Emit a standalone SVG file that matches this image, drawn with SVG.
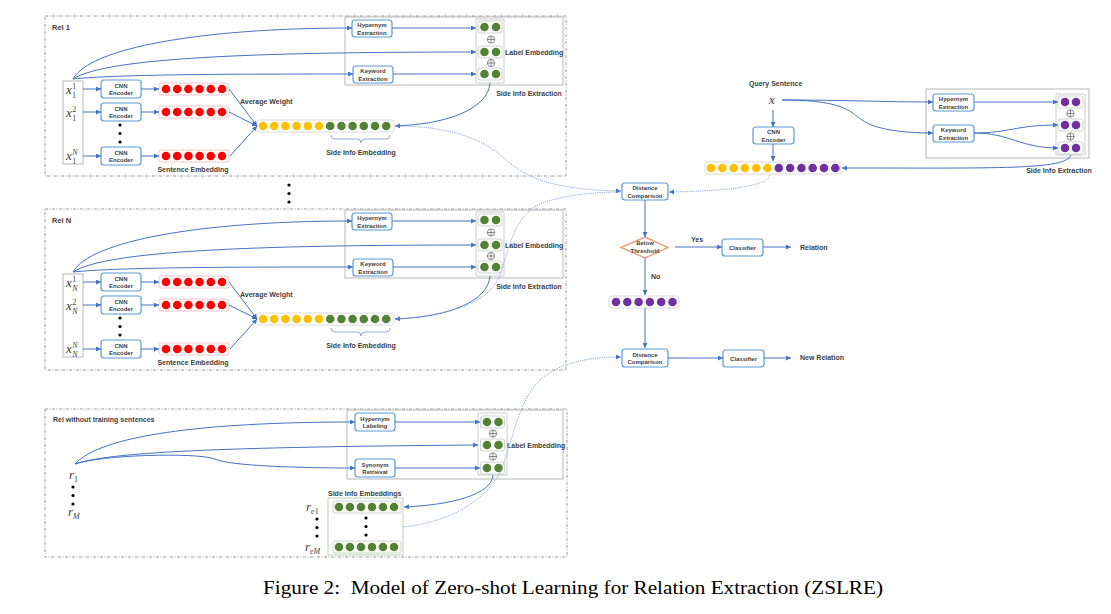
<svg xmlns="http://www.w3.org/2000/svg" xmlns:xlink="http://www.w3.org/1999/xlink" width="1111" height="614" viewBox="0 0 1111 614">
<style>
.bg{fill:#ffffff}
.outer{fill:none;stroke:#808080;stroke-width:0.8;stroke-dasharray:3 1.5 1 1.5}
.inner{fill:none;stroke:#A6A6A6;stroke-width:0.8}
.node{fill:#ffffff;stroke:#5B9BD5;stroke-width:1.2}
.inbox{fill:#ffffff;stroke:#A6A6A6;stroke-width:0.8}
.col{fill:#ffffff;stroke:#BFBFBF;stroke-width:0.8}
.cell{fill:#ffffff;stroke:#BFBFBF;stroke-width:0.7}
.bar{fill:#ffffff;stroke:#D0D0D0;stroke-width:0.8}
.rbar{fill:#ffffff;stroke:#F0B8B8;stroke-width:0.8}
.gbox{fill:#ffffff;stroke:#A9C79A;stroke-width:0.8}
.r{fill:#FF0000}
.y{fill:#FFC000}
.g{fill:#548235}
.p{fill:#7030A0}
.dot{fill:#000000}
.op{fill:#ffffff;stroke:#404040;stroke-width:0.6}
.lbl{font-family:"Liberation Sans",Arial,sans-serif;font-weight:bold;font-size:6px;fill:#404040;text-anchor:middle}
.txt{font-family:"Liberation Sans",Arial,sans-serif;font-weight:bold;font-size:7px;fill:#404040}
.mid{text-anchor:middle}
.math{font-family:"Liberation Serif","Times New Roman",serif;font-style:italic;font-size:13px;fill:#404040}
.sm{font-size:8px;font-style:normal}
.it{font-style:italic}
.conn{fill:none;stroke:#4472C4;stroke-width:1}
.dash{fill:none;stroke:#7F9FD4;stroke-width:0.9;stroke-dasharray:1.2 1}
.brace{fill:none;stroke:#8FAADC;stroke-width:1}
.diam{fill:#ffffff;stroke:#E9A07A;stroke-width:1.4}
.cap{font-family:"Liberation Serif","Times New Roman",serif;font-size:18px;fill:#000000}
</style>
<defs>
<marker id="ah" viewBox="0 0 6 6" refX="6" refY="3" markerWidth="5" markerHeight="5" markerUnits="userSpaceOnUse" orient="auto">
<path d="M0,0 L6,3 L0,6 z" fill="#4472C4"/>
</marker>
<g id="redrow">
<rect class="rbar" x="0" y="0" width="70" height="12" rx="2"/>
<circle class="r" cx="7" cy="6" r="4.3"/><circle class="r" cx="18.2" cy="6" r="4.3"/><circle class="r" cx="29.4" cy="6" r="4.3"/><circle class="r" cx="40.6" cy="6" r="4.3"/><circle class="r" cx="51.8" cy="6" r="4.3"/><circle class="r" cx="63" cy="6" r="4.3"/>
</g>
<g id="combo">
<rect class="bar" x="0" y="0" width="137" height="12" rx="2"/>
<circle class="y" cx="6" cy="6" r="4.3"/><circle class="y" cx="17.2" cy="6" r="4.3"/><circle class="y" cx="28.4" cy="6" r="4.3"/><circle class="y" cx="39.6" cy="6" r="4.3"/><circle class="y" cx="50.8" cy="6" r="4.3"/><circle class="y" cx="62" cy="6" r="4.3"/>
<circle class="g" cx="73.2" cy="6" r="4.3"/><circle class="g" cx="84.4" cy="6" r="4.3"/><circle class="g" cx="95.6" cy="6" r="4.3"/><circle class="g" cx="106.8" cy="6" r="4.3"/><circle class="g" cx="118" cy="6" r="4.3"/><circle class="g" cx="129.2" cy="6" r="4.3"/>
</g>
<g id="qcombo">
<rect class="bar" x="0" y="0" width="136" height="12" rx="2"/>
<circle class="y" cx="6" cy="6" r="4.3"/><circle class="y" cx="17.3" cy="6" r="4.3"/><circle class="y" cx="28.6" cy="6" r="4.3"/><circle class="y" cx="39.9" cy="6" r="4.3"/><circle class="y" cx="51.2" cy="6" r="4.3"/><circle class="y" cx="62.5" cy="6" r="4.3"/>
<circle class="p" cx="73.8" cy="6" r="4.3"/><circle class="p" cx="85.1" cy="6" r="4.3"/><circle class="p" cx="96.4" cy="6" r="4.3"/><circle class="p" cx="107.7" cy="6" r="4.3"/><circle class="p" cx="119" cy="6" r="4.3"/><circle class="p" cx="130.3" cy="6" r="4.3"/>
</g>
<g id="prow">
<rect class="bar" x="0" y="0" width="70" height="12" rx="2"/>
<circle class="p" cx="7" cy="6" r="4.3"/><circle class="p" cx="18.3" cy="6" r="4.3"/><circle class="p" cx="29.6" cy="6" r="4.3"/><circle class="p" cx="40.9" cy="6" r="4.3"/><circle class="p" cx="52.2" cy="6" r="4.3"/><circle class="p" cx="63.5" cy="6" r="4.3"/>
</g>
<g id="grow">
<rect class="cell" x="0" y="0" width="68" height="12" rx="2"/>
<circle class="g" cx="6" cy="6" r="4.3"/><circle class="g" cx="17" cy="6" r="4.3"/><circle class="g" cx="28" cy="6" r="4.3"/><circle class="g" cx="39" cy="6" r="4.3"/><circle class="g" cx="50" cy="6" r="4.3"/><circle class="g" cx="61" cy="6" r="4.3"/>
</g>
<g id="g2">
<rect class="cell" x="0" y="0" width="24" height="12" rx="2"/>
<circle class="g" cx="6.5" cy="6" r="4.3"/><circle class="g" cx="18" cy="6" r="4.3"/>
</g>
<g id="p2">
<rect class="cell" x="0" y="0" width="25" height="12" rx="2"/>
<circle class="p" cx="7" cy="6" r="4.3"/><circle class="p" cx="18" cy="6" r="4.3"/>
</g>
<g id="oplus">
<circle class="op" cx="0" cy="0" r="3.6"/>
<path d="M-3.6,0 H3.6 M0,-3.6 V3.6" stroke="#404040" stroke-width="0.6"/>
</g>
<g id="dots3">
<circle class="dot" cx="0" cy="0" r="1.6"/><circle class="dot" cx="0" cy="8.5" r="1.6"/><circle class="dot" cx="0" cy="17" r="1.6"/>
</g>
</defs>
<rect class="bg" x="0" y="0" width="1111" height="614"/>

<!-- ===================== Rel 1 ===================== -->
<g id="rel1">
<rect class="outer" x="45" y="16" width="521" height="160"/>
<text class="txt" x="52" y="30" style="font-size:7.5px">Rel 1</text>
</g>
<g id="rel1-inputs">
<rect class="inbox" x="63" y="81" width="20" height="83"/>
<text class="math" x="66" y="94">x<tspan class="sm" dx="0.5" dy="-5">1</tspan><tspan class="sm" dx="-4" dy="8.5">1</tspan></text>
<text class="math" x="66" y="117">x<tspan class="sm" dx="0.5" dy="-5">2</tspan><tspan class="sm" dx="-4" dy="8.5">1</tspan></text>
<text class="math" x="66" y="160">x<tspan class="sm it" dx="0.5" dy="-5">N</tspan><tspan class="sm" dx="-5.5" dy="8.5">1</tspan></text>
</g>
<g id="rel1-cnn1"><rect class="node" x="101" y="80" width="40" height="18" rx="3"/><text class="lbl" x="121" y="87.5">CNN</text><text class="lbl" x="121" y="95">Encoder</text></g>
<g id="rel1-cnn2"><rect class="node" x="101" y="103" width="40" height="18" rx="3"/><text class="lbl" x="121" y="110.5">CNN</text><text class="lbl" x="121" y="118">Encoder</text></g>
<g id="rel1-cnn3"><rect class="node" x="101" y="147" width="40" height="18" rx="3"/><text class="lbl" x="121" y="154.5">CNN</text><text class="lbl" x="121" y="162">Encoder</text></g>
<g id="rel1-dots"><use xlink:href="#dots3" x="120" y="125"/></g>
<g id="rel1-sent">
<use xlink:href="#redrow" x="159" y="83"/>
<use xlink:href="#redrow" x="159" y="106"/>
<use xlink:href="#redrow" x="159" y="150"/>
<text class="txt mid" x="193" y="172">Sentence Embedding</text>
</g>
<g id="rel1-avg"><text class="txt" x="240" y="104">Average Weight</text></g>
<g id="rel1-combo">
<use xlink:href="#combo" x="257" y="120"/>
<path class="brace" d="M331,135 Q331,139 335,139 L357,139 Q361,139 361,143 Q361,139 365,139 L386,139 Q390,139 390,135"/>
<text class="txt mid" x="361" y="155">Side Info Embedding</text>
</g>
<g id="rel1-side">
<rect class="inner" x="345" y="17" width="218" height="68"/>
<text class="txt mid" x="529" y="96">Side Info Extraction</text>
</g>
<g id="rel1-hyp"><rect class="node" x="352" y="20" width="40" height="17" rx="3"/><text class="lbl" x="372" y="27">Hypernym</text><text class="lbl" x="372" y="34.5">Extraction</text></g>
<g id="rel1-key"><rect class="node" x="353" y="66" width="40" height="17" rx="3"/><text class="lbl" x="373" y="73">Keyword</text><text class="lbl" x="373" y="80.5">Extraction</text></g>
<g id="rel1-label">
<rect class="col" x="476" y="19" width="28" height="64" rx="1"/>
<use xlink:href="#g2" x="478" y="21"/>
<use xlink:href="#g2" x="478" y="46"/>
<use xlink:href="#g2" x="478" y="68"/>
<use xlink:href="#oplus" x="491" y="39.5"/>
<use xlink:href="#oplus" x="491" y="63"/>
<text class="txt" x="505" y="55">Label Embedding</text>
</g>

<!-- ===================== between ===================== -->
<g id="mid-dots"><use xlink:href="#dots3" x="289" y="185"/></g>

<!-- ===================== Rel N ===================== -->
<g id="relN">
<rect class="outer" x="45" y="209" width="521" height="161"/>
<text class="txt" x="52" y="223" style="font-size:7.5px">Rel N</text>
</g>
<g id="relN-inputs">
<rect class="inbox" x="63" y="274" width="20" height="83"/>
<text class="math" x="66" y="287">x<tspan class="sm" dx="0.5" dy="-5">1</tspan><tspan class="sm it" dx="-4" dy="8.5">N</tspan></text>
<text class="math" x="66" y="310">x<tspan class="sm" dx="0.5" dy="-5">2</tspan><tspan class="sm it" dx="-4" dy="8.5">N</tspan></text>
<text class="math" x="66" y="353">x<tspan class="sm it" dx="0.5" dy="-5">N</tspan><tspan class="sm it" dx="-5.5" dy="8.5">N</tspan></text>
</g>
<g id="relN-cnn1"><rect class="node" x="101" y="273" width="40" height="18" rx="3"/><text class="lbl" x="121" y="280.5">CNN</text><text class="lbl" x="121" y="288">Encoder</text></g>
<g id="relN-cnn2"><rect class="node" x="101" y="296" width="40" height="18" rx="3"/><text class="lbl" x="121" y="303.5">CNN</text><text class="lbl" x="121" y="311">Encoder</text></g>
<g id="relN-cnn3"><rect class="node" x="101" y="340" width="40" height="18" rx="3"/><text class="lbl" x="121" y="347.5">CNN</text><text class="lbl" x="121" y="355">Encoder</text></g>
<g id="relN-dots"><use xlink:href="#dots3" x="120" y="318"/></g>
<g id="relN-sent">
<use xlink:href="#redrow" x="159" y="276"/>
<use xlink:href="#redrow" x="159" y="299"/>
<use xlink:href="#redrow" x="159" y="343"/>
<text class="txt mid" x="193" y="365">Sentence Embedding</text>
</g>
<g id="relN-avg"><text class="txt" x="240" y="297">Average Weight</text></g>
<g id="relN-combo">
<use xlink:href="#combo" x="257" y="313"/>
<path class="brace" d="M331,328 Q331,332 335,332 L357,332 Q361,332 361,336 Q361,332 365,332 L386,332 Q390,332 390,328"/>
<text class="txt mid" x="361" y="348">Side Info Embedding</text>
</g>
<g id="relN-side">
<rect class="inner" x="345" y="210" width="218" height="68"/>
<text class="txt mid" x="529" y="289">Side Info Extraction</text>
</g>
<g id="relN-hyp"><rect class="node" x="352" y="213" width="40" height="17" rx="3"/><text class="lbl" x="372" y="220">Hypernym</text><text class="lbl" x="372" y="227.5">Extraction</text></g>
<g id="relN-key"><rect class="node" x="353" y="259" width="40" height="17" rx="3"/><text class="lbl" x="373" y="266">Keyword</text><text class="lbl" x="373" y="273.5">Extraction</text></g>
<g id="relN-label">
<rect class="col" x="476" y="212" width="28" height="64" rx="1"/>
<use xlink:href="#g2" x="478" y="214"/>
<use xlink:href="#g2" x="478" y="239"/>
<use xlink:href="#g2" x="478" y="261"/>
<use xlink:href="#oplus" x="491" y="232.5"/>
<use xlink:href="#oplus" x="491" y="256"/>
<text class="txt" x="505" y="248">Label Embedding</text>
</g>

<!-- ===================== Rel without training ===================== -->
<g id="relz">
<rect class="outer" x="45" y="409" width="522" height="148"/>
<text class="txt" x="53" y="422">Rel without training sentences</text>
</g>
<g id="relz-inputs">
<text class="math" x="69" y="479">r<tspan class="sm" dx="0" dy="3">1</tspan></text>
<use xlink:href="#dots3" x="73" y="487"/>
<text class="math" x="68" y="516">r<tspan class="sm it" dx="0" dy="3">M</tspan></text>
</g>
<g id="relz-side"><rect class="inner" x="347" y="410" width="216" height="69"/></g>
<g id="relz-hyp"><rect class="node" x="355" y="413" width="40" height="18" rx="3"/><text class="lbl" x="375" y="420.5">Hypernym</text><text class="lbl" x="375" y="428">Labeling</text></g>
<g id="relz-syn"><rect class="node" x="355" y="459" width="40" height="18" rx="3"/><text class="lbl" x="375" y="466.5">Synonym</text><text class="lbl" x="375" y="474">Retrieval</text></g>
<g id="relz-label">
<rect class="col" x="478" y="413" width="29" height="62" rx="1"/>
<use xlink:href="#g2" x="480.5" y="416"/>
<use xlink:href="#g2" x="480.5" y="439"/>
<use xlink:href="#g2" x="480.5" y="462"/>
<use xlink:href="#oplus" x="493" y="433.5"/>
<use xlink:href="#oplus" x="493" y="456.5"/>
<text class="txt" x="507" y="448">Label Embedding</text>
</g>
<g id="relz-emb">
<text class="txt" x="328" y="496">Side Info Embeddings</text>
<rect class="gbox" x="328" y="498" width="75" height="57"/>
<use xlink:href="#grow" x="333" y="501"/>
<use xlink:href="#dots3" x="366" y="518"/>
<use xlink:href="#grow" x="333" y="541"/>
<text class="math" x="306" y="511">r<tspan class="sm it" dx="0" dy="3">e</tspan><tspan class="sm">1</tspan></text>
<use xlink:href="#dots3" x="317" y="519"/>
<text class="math" x="305" y="551">r<tspan class="sm it" dx="0" dy="3">eM</tspan></text>
</g>

<!-- ===================== Query ===================== -->
<g id="query">
<text class="txt" x="749" y="86">Query Sentence</text>
<text class="math" x="769" y="104">x</text>
</g>
<g id="q-cnn"><rect class="node" x="753" y="127" width="41" height="17" rx="3"/><text class="lbl" x="773.5" y="134">CNN</text><text class="lbl" x="773.5" y="141.5">Encoder</text></g>
<g id="q-combo"><use xlink:href="#qcombo" x="705" y="162"/></g>
<g id="q-side">
<rect class="inner" x="926" y="89" width="163" height="69"/>
<text class="txt mid" x="1059" y="173">Side Info Extraction</text>
</g>
<g id="q-hyp"><rect class="node" x="933" y="94" width="41" height="17" rx="3"/><text class="lbl" x="953.5" y="101">Hypernym</text><text class="lbl" x="953.5" y="108.5">Extraction</text></g>
<g id="q-key"><rect class="node" x="933" y="125" width="41" height="17" rx="3"/><text class="lbl" x="953.5" y="132">Keyword</text><text class="lbl" x="953.5" y="139.5">Extraction</text></g>
<g id="q-label">
<rect class="col" x="1056" y="94" width="29" height="61" rx="1"/>
<use xlink:href="#p2" x="1058" y="96"/>
<use xlink:href="#p2" x="1058" y="119"/>
<use xlink:href="#p2" x="1058" y="142"/>
<use xlink:href="#oplus" x="1070.5" y="113.5"/>
<use xlink:href="#oplus" x="1070.5" y="136.5"/>
</g>

<!-- ===================== Decision ===================== -->
<g id="dc1"><rect class="node" x="622" y="183" width="46" height="17" rx="3"/><text class="lbl" x="645" y="190">Distance</text><text class="lbl" x="645" y="197.5">Comparison</text></g>
<g id="thresh"><polygon class="diam" points="645,237 668,247.5 645,258 621,247.5"/><text class="lbl" x="645" y="245">Below</text><text class="lbl" x="645" y="252.5">Threshold</text></g>
<g id="cls1"><rect class="node" x="722" y="239" width="41" height="17" rx="3"/><text class="lbl" x="742.5" y="249.5">Classifier</text></g>
<g id="rel-out"><text class="txt" x="800" y="250">Relation</text></g>
<g id="prow-node"><use xlink:href="#prow" x="609" y="296"/></g>
<g id="dc2"><rect class="node" x="622" y="349" width="46" height="18" rx="3"/><text class="lbl" x="645" y="356.5">Distance</text><text class="lbl" x="645" y="364">Comparison</text></g>
<g id="cls2"><rect class="node" x="723" y="350" width="41" height="17" rx="3"/><text class="lbl" x="743.5" y="360.5">Classifier</text></g>
<g id="newrel-out"><text class="txt" x="800" y="360">New Relation</text></g>

<!-- ===================== Connectors ===================== -->
<g id="connectors">
<path class="conn" marker-end="url(#ah)" d="M73,79 C90,48 200,28 352,28"/>
<path class="conn" marker-end="url(#ah)" d="M73,79 C105,58 250,52 476,52"/>
<path class="conn" marker-end="url(#ah)" d="M73,79 C120,74 250,74 353,74"/>
<path class="conn" marker-end="url(#ah)" d="M83,89 L101,89"/>
<path class="conn" marker-end="url(#ah)" d="M83,112 L101,112"/>
<path class="conn" marker-end="url(#ah)" d="M83,156 L101,156"/>
<path class="conn" marker-end="url(#ah)" d="M141,89 L159,89"/>
<path class="conn" marker-end="url(#ah)" d="M141,112 L159,112"/>
<path class="conn" marker-end="url(#ah)" d="M141,156 L159,156"/>
<path class="conn" marker-end="url(#ah)" d="M229,89 L257,126"/>
<path class="conn" marker-end="url(#ah)" d="M229,112 L257,126"/>
<path class="conn" marker-end="url(#ah)" d="M230,156 L257,126"/>
<path class="conn" marker-end="url(#ah)" d="M392,28 L476,28"/>
<path class="conn" marker-end="url(#ah)" d="M393,74 L476,74"/>
<path class="conn" marker-end="url(#ah)" d="M490,83 C488,108 450,124 395,126"/>
<path class="dash" marker-end="url(#ah)" d="M395,126 C470,126 495,150 510,163 C530,180 560,190 621,191"/>
<path class="conn" marker-end="url(#ah)" d="M73,272 C90,241 200,221 352,221"/>
<path class="conn" marker-end="url(#ah)" d="M73,272 C105,251 250,245 476,245"/>
<path class="conn" marker-end="url(#ah)" d="M73,272 C120,267 250,267 353,267"/>
<path class="conn" marker-end="url(#ah)" d="M83,282 L101,282"/>
<path class="conn" marker-end="url(#ah)" d="M83,305 L101,305"/>
<path class="conn" marker-end="url(#ah)" d="M83,349 L101,349"/>
<path class="conn" marker-end="url(#ah)" d="M141,282 L159,282"/>
<path class="conn" marker-end="url(#ah)" d="M141,305 L159,305"/>
<path class="conn" marker-end="url(#ah)" d="M141,349 L159,349"/>
<path class="conn" marker-end="url(#ah)" d="M229,282 L257,319"/>
<path class="conn" marker-end="url(#ah)" d="M229,305 L257,319"/>
<path class="conn" marker-end="url(#ah)" d="M230,349 L257,319"/>
<path class="conn" marker-end="url(#ah)" d="M392,221 L476,221"/>
<path class="conn" marker-end="url(#ah)" d="M393,267 L476,267"/>
<path class="conn" marker-end="url(#ah)" d="M490,276 C488,301 450,317 395,319"/>
<path class="dash" d="M395,319 C450,316 490,302 500,275 C510,245 515,215 540,204 C565,194 600,192 621,192"/>
<path class="conn" marker-end="url(#ah)" d="M75,464 C100,436 200,422 355,422"/>
<path class="conn" marker-end="url(#ah)" d="M75,464 C110,452 220,447 478,445"/>
<path class="conn" marker-end="url(#ah)" d="M75,464 C100,455 195,452 215,459 C230,466 300,468 355,468"/>
<path class="conn" marker-end="url(#ah)" d="M395,422 L480,422"/>
<path class="conn" marker-end="url(#ah)" d="M395,468 L480,468"/>
<path class="conn" marker-end="url(#ah)" d="M493,475 C492,495 450,505 404,507"/>
<path class="dash" marker-end="url(#ah)" d="M403,527 C450,522 490,500 503,465 C515,430 520,400 540,380 C560,362 590,357 621,357"/>
<path class="conn" marker-end="url(#ah)" d="M782,100 C850,100 880,102 933,102"/>
<path class="conn" marker-end="url(#ah)" d="M782,100 C845,100 850,112 862,120 C875,129 900,133 933,133"/>
<path class="conn" marker-end="url(#ah)" d="M773,110 L773,127"/>
<path class="conn" marker-end="url(#ah)" d="M773,144 L773,161"/>
<path class="conn" marker-end="url(#ah)" d="M974,102 L1058,102"/>
<path class="conn" marker-end="url(#ah)" d="M974,133 C1010,133 1015,125 1058,125"/>
<path class="conn" marker-end="url(#ah)" d="M974,133 C1010,133 1020,148 1058,148"/>
<path class="conn" marker-end="url(#ah)" d="M1071,155 C1066,170 1000,168 842,168"/>
<path class="dash" marker-end="url(#ah)" d="M770,175 C765,188 720,191 669,192"/>
<path class="conn" marker-end="url(#ah)" d="M645,200 L645,237"/>
<path class="conn" marker-end="url(#ah)" d="M675,247 L722,247"/>
<path class="conn" marker-end="url(#ah)" d="M763,247 L791,247"/>
<path class="conn" marker-end="url(#ah)" d="M645,258 L645,295"/>
<path class="conn" marker-end="url(#ah)" d="M645,308 L645,348"/>
<path class="conn" marker-end="url(#ah)" d="M668,358 L723,358"/>
<path class="conn" marker-end="url(#ah)" d="M764,358 L791,358"/>
<text class="txt" x="691" y="242">Yes</text>
<text class="txt" x="651" y="279">No</text>
</g>

<g id="caption"><text class="cap" x="573" y="594" text-anchor="middle" textLength="620" lengthAdjust="spacingAndGlyphs">Figure 2:&#160; Model of Zero-shot Learning for Relation Extraction (ZSLRE)</text></g>
</svg>
